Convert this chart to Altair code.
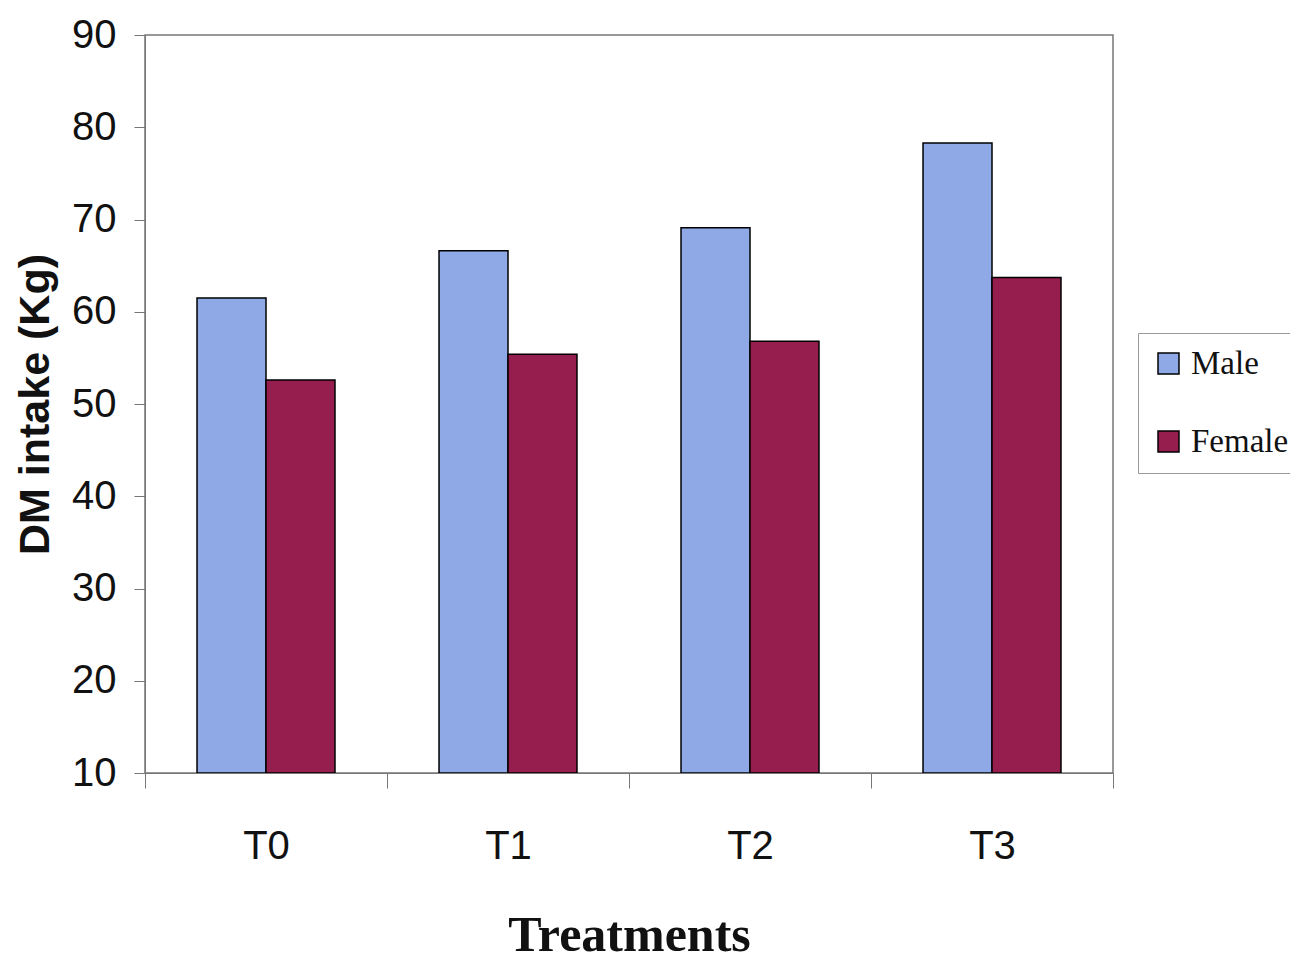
import altair as alt
import pandas as pd

treatments = ["T0", "T1", "T2", "T3"]
male = [61.5, 66.6, 69.1, 78.3]
female = [52.6, 55.4, 56.8, 63.7]
series = ["Male", "Female"]
colors = ["#8FA8E6", "#961E4E"]
baseline = 10

rows = []
for t, m, f in zip(treatments, male, female):
    rows.append({"Treatment": t, "Sex": "Male", "Value": m})
    rows.append({"Treatment": t, "Sex": "Female", "Value": f})
df = pd.DataFrame(rows)

chart = alt.Chart(df).mark_bar(stroke="black", strokeWidth=1.5).encode(
    x=alt.X("Treatment:N", sort=treatments,
            scale=alt.Scale(paddingInner=0, paddingOuter=0),
            axis=alt.Axis(title="Treatments", labelAngle=0,
                          labelFont="Liberation Sans", labelFontSize=40,
                          labelColor="#111", labelPadding=38,
                          tickBand="extent", tickSize=15, tickColor="#777",
                          domainColor="#777", zindex=1,
                          titleFont="Liberation Serif", titleFontSize=50,
                          titleFontWeight="bold", titleColor="#111",
                          titlePadding=44)),
    xOffset=alt.XOffset("Sex:N", sort=series,
                        scale=alt.Scale(paddingInner=0, paddingOuter=0.754)),
    y=alt.Y("Value:Q", scale=alt.Scale(domain=[10, 90], nice=False, zero=False),
            axis=alt.Axis(title="DM intake (Kg)", values=list(range(10, 91, 10)),
                          grid=False, tickSize=11, tickColor="#777",
                          domainColor="#777", zindex=1,
                          labelFont="Liberation Sans", labelFontSize=40,
                          labelColor="#111", labelPadding=18,
                          titleFont="Liberation Sans", titleFontSize=43,
                          titleFontWeight="bold", titleColor="#111",
                          titlePadding=14)),
    y2=alt.Y2(datum=baseline),
    color=alt.Color("Sex:N", sort=series,
                    scale=alt.Scale(domain=series, range=colors),
                    legend=alt.Legend(title=None, orient="none",
                                      legendX=993, legendY=298,
                                      symbolType="square", symbolSize=440,
                                      symbolStrokeColor="black", symbolStrokeWidth=1.5,
                                      labelFont="Liberation Serif", labelFontSize=33,
                                      labelColor="#111", rowPadding=44,
                                      labelOffset=6,
                                      strokeColor="#999", padding=14,
                                      labelLimit=300)),
).properties(
    width=968, height=738,
    autosize=alt.AutoSizeParams(type="none"),
    padding={"left": 137, "top": 27, "right": 177, "bottom": 189},
).configure_view(stroke="#777", strokeWidth=1.5)

chart.save("out.html", embed_options={"renderer": "svg", "actions": False})
